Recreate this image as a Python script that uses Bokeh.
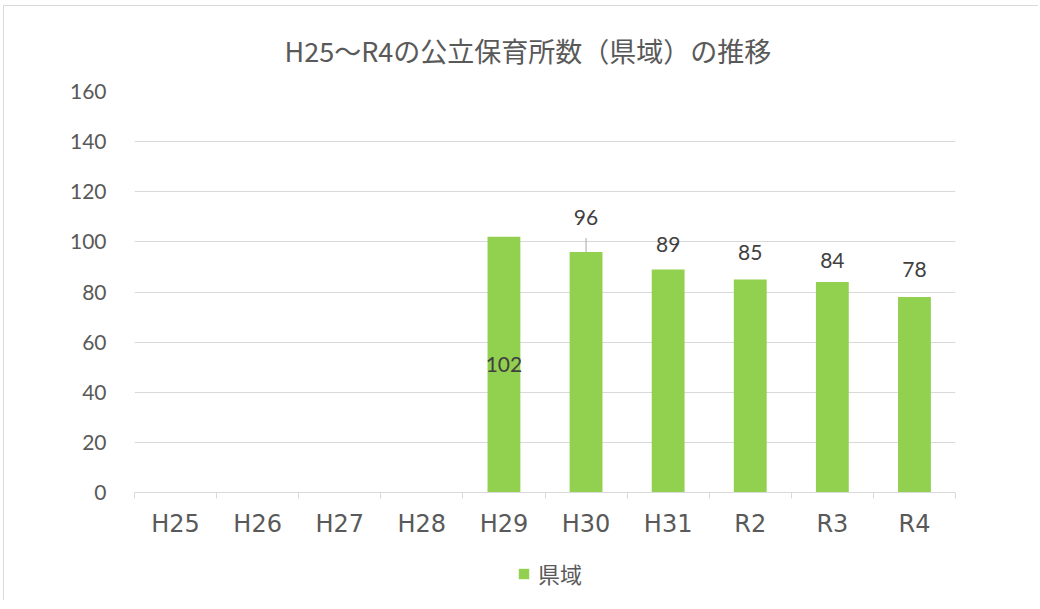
from bokeh.plotting import figure
from bokeh.layouts import column
from bokeh.models import ColumnDataSource, FixedTicker, Legend, LegendItem, Range1d
from bokeh.embed import file_html
from bokeh.resources import INLINE
from bokeh.core.properties import value

# ---- data ----
categories = ["H25", "H26", "H27", "H28", "H29", "H30", "H31", "R2", "R3", "R4"]
counts = [None, None, None, None, 102, 96, 89, 85, 84, 78]
y_ticks = [0, 20, 40, 60, 80, 100, 120, 140, 160]
title_text = "H25～R4の公立保育所数（県域）の推移"
series_name = "県域"

# ---- style ----
BAR = "#92D050"
GRID = "#d9d9d9"
TXT = "#595959"
LBL = "#404040"
W = 1035
H_MAIN, H_LEG = 550, 45
ML, MR, MT, MB = 130, 84, 82, 64
frame_h = H_MAIN - MT - MB
px_per_unit = frame_h / (y_ticks[-1] - y_ticks[0])
# label placement per category (style): pixel offset above bar top; "mid" = centred in bar
label_place = [None, None, None, None, "mid", -34, -25, -27, -21, -28]
leader_px = 14

xs, tops = [], []
lx, ly, lt, loff = [], [], [], []
seg_x, seg_y0, seg_y1 = [], [], []
for i, (c, v) in enumerate(zip(categories, counts)):
    if v is None:
        continue
    xs.append(i + 0.5)
    tops.append(v)
    lt.append(str(v))
    lx.append(i + 0.5)
    if label_place[i] == "mid":
        ly.append(v / 2)
        loff.append(0)
    else:
        ly.append(v)
        loff.append(label_place[i])
        if label_place[i] <= -32:
            seg_x.append(i + 0.5)
            seg_y0.append(v)
            seg_y1.append(v + leader_px / px_per_unit)

bar_src = ColumnDataSource(dict(x=xs, top=tops))
lab_src = ColumnDataSource(dict(x=lx, y=ly, text=lt, off=loff))

p = figure(width=W, height=H_MAIN, output_backend="svg", toolbar_location=None,
           x_range=Range1d(0, len(categories)), y_range=Range1d(y_ticks[0], y_ticks[-1]),
           min_border_left=ML, min_border_right=MR, min_border_top=MT, min_border_bottom=MB)
p.outline_line_color = None
p.background_fill_color = "white"
p.border_fill_color = "white"

p.title.text = title_text
p.title.text_font = "Noto Sans CJK JP"
p.title.text_font_size = "27px"
p.title.text_font_style = "normal"
p.title.text_color = TXT
p.title.align = "left"
p.title.offset = 150
p.title.standoff = 44

bars = p.vbar(x="x", top="top", width=0.4, source=bar_src, fill_color=BAR, line_color=None)

p.segment(x0=seg_x, y0=seg_y0, x1=seg_x, y1=seg_y1, line_color="#a6a6a6", line_width=1)

p.text(x="x", y="y", text="text", y_offset="off", source=lab_src,
       text_align="center", text_baseline="middle",
       text_font=value("Lato"), text_font_size="21px", text_color=LBL)

# axes
p.ygrid.ticker = FixedTicker(ticks=y_ticks)
p.ygrid.grid_line_color = GRID
p.xgrid.grid_line_color = None

ya = p.yaxis[0]
ya.ticker = FixedTicker(ticks=y_ticks)
ya.axis_line_color = None
ya.major_tick_line_color = None
ya.minor_tick_line_color = None
ya.major_tick_out = 0
ya.major_label_standoff = 28
ya.major_label_text_font = "Lato"
ya.major_label_text_font_size = "21px"
ya.major_label_text_color = TXT

xa = p.xaxis[0]
xa.ticker = FixedTicker(ticks=[i + 0.5 for i in range(len(categories))],
                        minor_ticks=list(range(len(categories) + 1)))
xa.major_label_overrides = {i + 0.5: c for i, c in enumerate(categories)}
xa.axis_line_color = GRID
xa.major_tick_line_color = None
xa.major_tick_out = 0
xa.minor_tick_line_color = GRID
xa.minor_tick_in = 0
xa.minor_tick_out = 6
xa.major_label_standoff = 11
xa.major_label_text_font = "DejaVu Sans"
xa.major_label_text_font_size = "24px"
xa.major_label_text_color = TXT

# legend strip below the chart (its bar renderer shares the data but lies outside its view)
pl = figure(width=W, height=H_LEG, output_backend="svg", toolbar_location=None,
            x_axis_type=None, y_axis_type=None,
            x_range=Range1d(0, len(categories)),
            y_range=Range1d(2 * y_ticks[-1], 3 * y_ticks[-1]),
            min_border=0)
pl.outline_line_color = None
pl.xgrid.grid_line_color = None
pl.ygrid.grid_line_color = None
swatch = pl.vbar(x="x", top="top", width=0.4, source=bar_src, fill_color=BAR, line_color=None)
legend = Legend(items=[LegendItem(label=series_name, renderers=[swatch])],
                orientation="horizontal", location=(383, 12),
                border_line_color=None, background_fill_alpha=0,
                label_text_font="Noto Sans CJK JP", label_text_font_size="22px",
                label_text_color=TXT, glyph_width=13, glyph_height=13,
                margin=0, padding=0, label_standoff=8)
pl.add_layout(legend, "center")

layout = column(p, pl, spacing=0, margin=(6, 0, 0, 4),
                styles={"box-shadow": "-1px -1px 0 0 #d9d9d9"})
open("out.html", "w").write(file_html(layout, INLINE))
